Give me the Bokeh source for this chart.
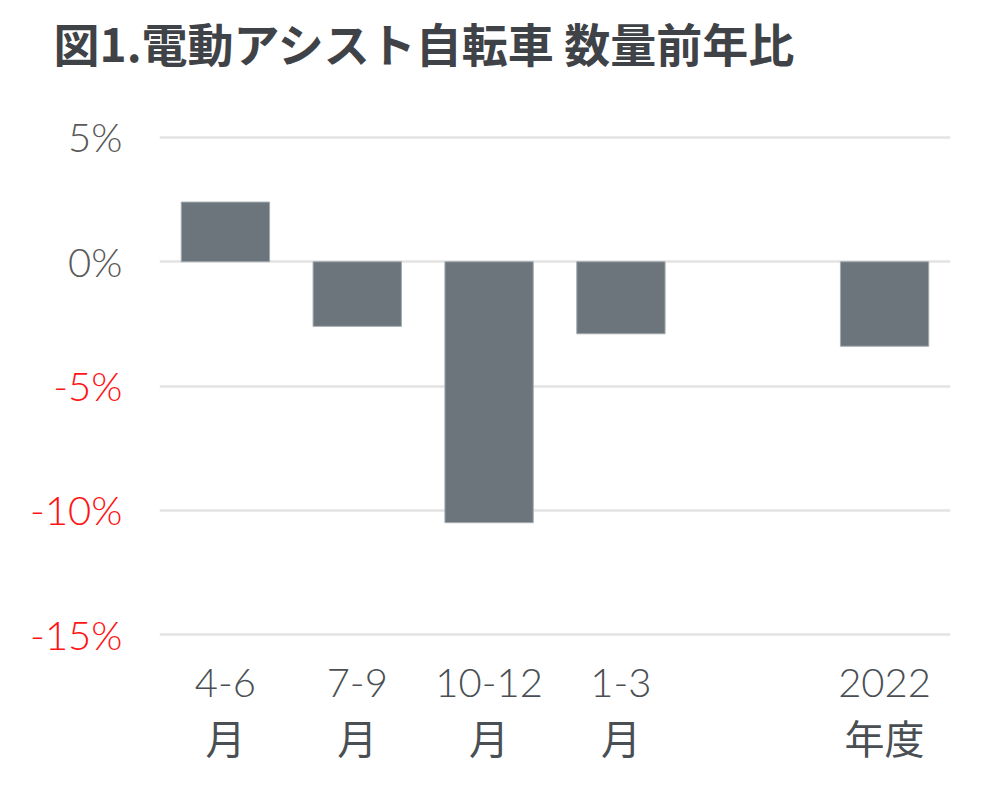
from bokeh.plotting import figure
from bokeh.models import (FactorRange, Range1d, FixedTicker, LinearAxis, Title)
from bokeh.embed import file_html
from bokeh.resources import INLINE

# ---- data ----
categories = ["4-6\n月", "7-9\n月", "10-12\n月", "1-3\n月", " ", "2022\n年度"]
bar_categories = ["4-6\n月", "7-9\n月", "10-12\n月", "1-3\n月", "2022\n年度"]
yoy_values = [2.4, -2.6, -10.5, -2.9, -3.4]
pos_ticks = [0, 5]
neg_ticks = [-5, -10, -15]
title_text = "図1.電動アシスト自転車 数量前年比"

LABEL_FONT = "'Lato Light', Lato, 'Noto Sans CJK JP', sans-serif"

p = figure(width=990, height=790, output_backend="svg", toolbar_location=None,
           x_range=FactorRange(factors=categories, range_padding=0),
           y_range=Range1d(-15.2, 5.2),
           min_border_left=159, min_border_right=40,
           min_border_top=132, min_border_bottom=151)
p.outline_line_color = None

p.vbar(x=bar_categories, top=yoy_values, bottom=0, width=0.67,
       fill_color="#6b757b", line_color="#a3abb0", line_width=1)

# grid
p.xgrid.visible = False
p.ygrid.ticker = FixedTicker(ticks=neg_ticks + pos_ticks)
p.ygrid.grid_line_color = "#e3e3e3"
p.ygrid.grid_line_width = 2.5


def style_y(ax, ticks, color, standoff):
    ax.ticker = FixedTicker(ticks=ticks)
    ax.major_label_overrides = {t: f"{t}%" for t in ticks}
    ax.axis_line_color = None
    ax.major_tick_line_color = None
    ax.minor_tick_line_color = None
    ax.major_tick_out = 0
    ax.major_tick_in = 0
    ax.major_label_text_font = LABEL_FONT
    ax.major_label_text_font_size = "40px"
    ax.major_label_text_color = color
    ax.major_label_standoff = standoff


# inner axis: non-negative ticks (grey)
style_y(p.yaxis[0], pos_ticks, "#595959", 37)
# outer axis: negative ticks (red), pulled back to the same position
neg_axis = LinearAxis()
style_y(neg_axis, neg_ticks, "#ff1414", -57)
p.add_layout(neg_axis, "left")

# x axis
p.xaxis.axis_line_color = None
p.xaxis.major_tick_line_color = None
p.xaxis.minor_tick_line_color = None
p.xaxis.major_tick_out = 0
p.xaxis.major_label_text_font = LABEL_FONT
p.xaxis.major_label_text_font_size = "40px"
p.xaxis.major_label_text_color = "#4a4f54"
p.xaxis.major_label_standoff = 18

# spacer between title and plot area (inner), then the title (outer)
p.add_layout(Title(text=" ", text_font_size="1px", standoff=55), "above")
p.add_layout(Title(text=title_text, text_font="'Noto Sans CJK JP', sans-serif",
                   text_font_size="46px", text_font_style="bold",
                   text_color="#3f4347", align="left", offset=-106,
                   standoff=0), "above")

open("out.html", "w").write(file_html(p, INLINE))
